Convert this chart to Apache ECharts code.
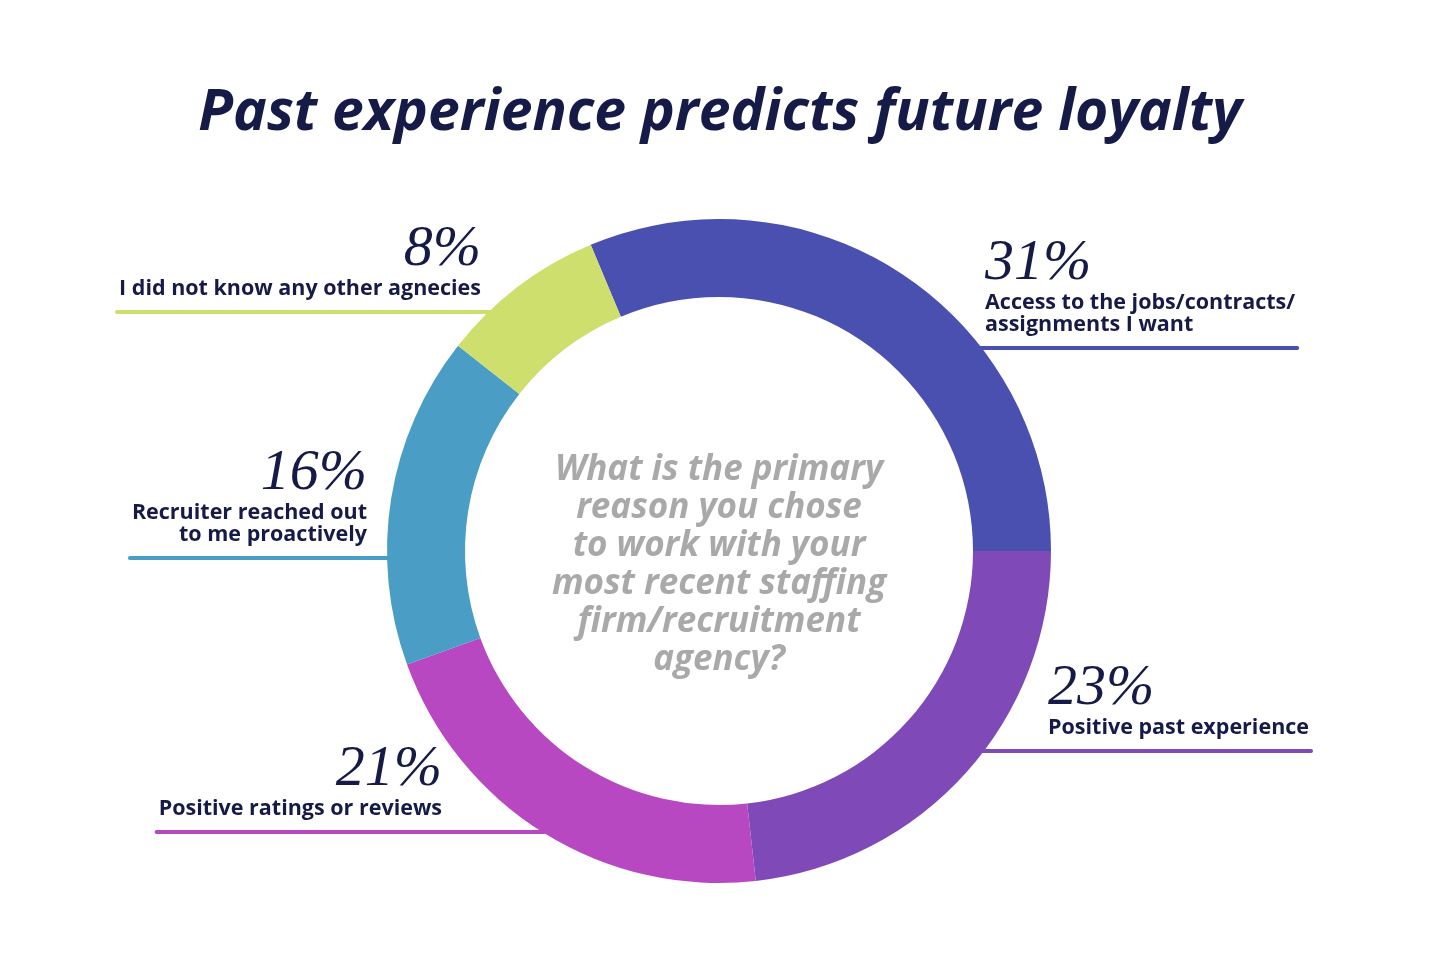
<!DOCTYPE html>
<html>
<head>
<meta charset="utf-8">
<script src="https://cdn.jsdelivr.net/npm/echarts@6/dist/echarts.min.js"></script>
<style>
html,body{margin:0;padding:0;background:#fff;}
#chart{width:1440px;height:956px;}
</style>
</head>
<body>
<div id="chart"></div>
<script>
// ---- data ----
const categories = [
  'Access to the jobs/contracts/\nassignments I want',
  'Positive past experience',
  'Positive ratings or reviews',
  'Recruiter reached out\nto me proactively',
  'I did not know any other agnecies'
];
const values = [31, 23, 21, 16, 8];
const colors = ['#4A50B0', '#7F4AB8', '#B847C2', '#4A9DC4', '#CEDF6D'];
const titleText = 'Past experience predicts future loyalty';
const centerText = 'What is the primary\nreason you chose\nto work with your\nmost recent staffing\nfirm/recruitment\nagency?';

// ---- layout (positions only) ----
const CX = 719, CY = 551, R_IN = 254, R_OUT = 332;
const labelLayoutCfg = [
  { side: 'right', lineY: 348, textX: 985 },
  { side: 'right', lineY: 751, textX: 1048 },
  { side: 'left',  lineY: 832, textX: 442 },
  { side: 'left',  lineY: 558, textX: 367 },
  { side: 'left',  lineY: 312, textX: 481 }
];

const navy = '#151A47';
const SANS = "'Open Sans', Lato, sans-serif";
const chart = echarts.init(document.getElementById('chart'));
chart.setOption({
  animation: false,
  backgroundColor: '#ffffff',
  title: {
    text: titleText,
    left: 'center',
    top: 80,
    textStyle: { fontFamily: SANS, fontStyle: 'italic', fontWeight: 'bold', fontSize: 57, color: navy }
  },
  graphic: [{
    type: 'text',
    x: CX,
    y: 565,
    silent: true,
    style: {
      text: centerText,
      textAlign: 'center',
      textVerticalAlign: 'middle',
      fontFamily: SANS, fontStyle: 'italic', fontWeight: 'bold', fontSize: 35, lineHeight: 38,
      fill: '#A9A9A9'
    }
  }],
  series: [{
    type: 'pie',
    center: [CX, CY],
    radius: [R_IN, R_OUT],
    startAngle: 112.73,
    clockwise: true,
    avoidLabelOverlap: false,
    silent: true,
    data: categories.map((c, i) => ({ name: c, value: values[i], itemStyle: { color: colors[i] } })),
    label: {
      show: true,
      position: 'outside',
      formatter: p => '{pct|' + p.value + '%}\n{desc|' + p.name + '}',
      rich: {
        pct: { fontFamily: 'Liberation Serif', fontStyle: 'italic', fontSize: 58, lineHeight: 56, color: navy },
        desc: { fontFamily: SANS, fontWeight: 'bold', fontSize: 21.5, lineHeight: 22, color: navy }
      }
    },
    labelLine: {
      show: true,
      lineStyle: { width: 4, cap: 'round' }
    },
    labelLayout: function (params) {
      const L = labelLayoutCfg[params.dataIndex];
      const w = params.labelRect.width;
      const dy = L.lineY - CY;
      const edge = Math.sqrt(Math.max(R_OUT * R_OUT - dy * dy, 0)) - 2;
      if (L.side === 'right') {
        return {
          x: L.textX, y: L.lineY - 12, align: 'left', verticalAlign: 'bottom',
          labelLinePoints: [[CX + edge, L.lineY], [CX + edge + 1, L.lineY], [L.textX + w + 2, L.lineY]]
        };
      }
      return {
        x: L.textX, y: L.lineY - 12, align: 'right', verticalAlign: 'bottom',
        labelLinePoints: [[CX - edge, L.lineY], [CX - edge - 1, L.lineY], [L.textX - w - 2, L.lineY]]
      };
    }
  }]
});
</script>
</body>
</html>
